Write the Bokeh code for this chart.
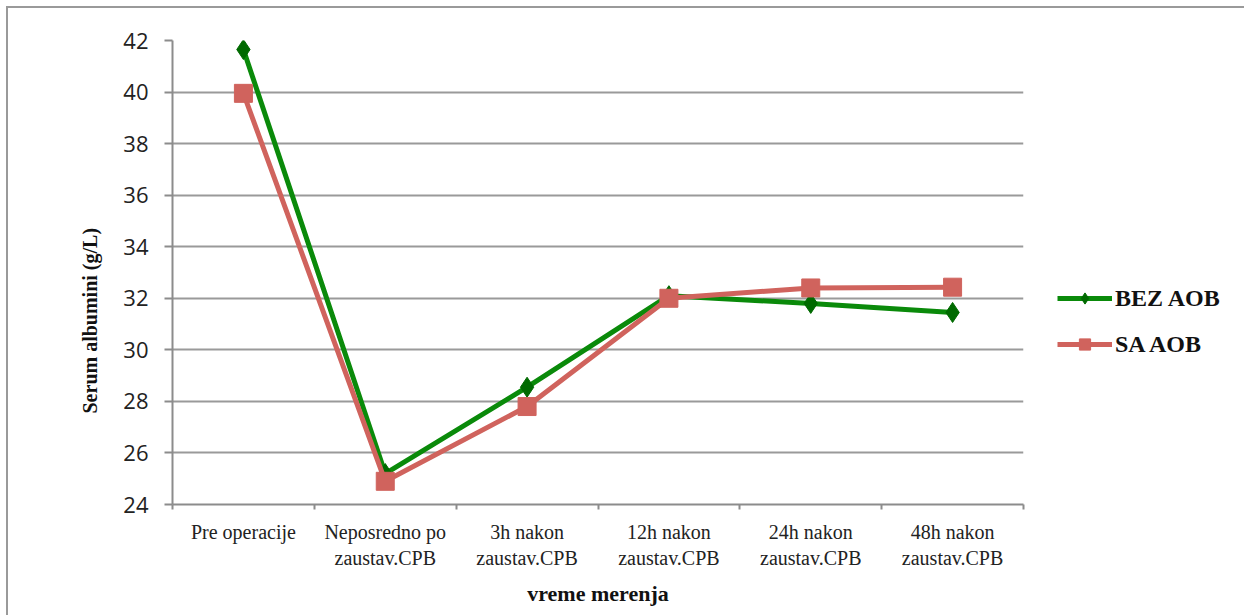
from bokeh.plotting import figure
from bokeh.models import FixedTicker, Legend, LegendItem, Range1d, Title
from bokeh.embed import file_html
from bokeh.resources import INLINE

categories = ["Pre operacije", "Neposredno po\nzaustav.CPB", "3h nakon\nzaustav.CPB",
              "12h nakon\nzaustav.CPB", "24h nakon\nzaustav.CPB", "48h nakon\nzaustav.CPB"]
bez_aob = [41.65, 25.2, 28.55, 32.1, 31.8, 31.45]
sa_aob = [39.95, 24.9, 27.8, 32.0, 32.4, 32.43]
y_ticks = [24, 26, 28, 30, 32, 34, 36, 38, 40, 42]

xs = [i + 0.5 for i in range(len(categories))]

p = figure(width=1228, frame_width=851, frame_height=464, output_backend="svg", toolbar_location=None,
           x_range=Range1d(0, len(categories)), y_range=Range1d(24, 42),
           min_border_left=164, min_border_top=32, min_border_right=10, min_border_bottom=114)
p.styles = {"border": "2px solid #9a9a9a", "margin-left": "6px", "margin-top": "6px"}
p.outline_line_color = None
p.background_fill_color = "white"
p.border_fill_color = "white"

# axes
p.xaxis.ticker = FixedTicker(ticks=xs, minor_ticks=list(range(len(categories) + 1)))
p.xaxis.major_label_overrides = {x: c for x, c in zip(xs, categories)}
p.xaxis.major_tick_line_color = None
p.xaxis.minor_tick_out = 5
p.xaxis.minor_tick_in = 0
p.xaxis.minor_tick_line_color = "#8c8c8c"
p.xaxis.minor_tick_line_width = 2
p.xaxis.axis_line_color = "#8c8c8c"
p.xaxis.axis_line_width = 2
p.xaxis.major_label_text_font = "Liberation Serif"
p.xaxis.major_label_text_font_size = "20px"
p.xaxis.major_label_text_color = "#222222"
p.xaxis.major_label_standoff = 10
p.xaxis.axis_label = "vreme merenja"
p.xaxis.axis_label_text_font = "Liberation Serif"
p.xaxis.axis_label_text_font_style = "bold"
p.xaxis.axis_label_text_font_size = "22px"
p.xaxis.axis_label_text_color = "#111111"
p.xaxis.axis_label_standoff = 9

p.yaxis.ticker = FixedTicker(ticks=y_ticks)
p.yaxis.major_tick_out = 8
p.yaxis.major_tick_in = 0
p.yaxis.minor_tick_line_color = None
p.yaxis.major_tick_line_color = "#8c8c8c"
p.yaxis.major_tick_line_width = 2
p.yaxis.axis_line_color = "#8c8c8c"
p.yaxis.axis_line_width = 2
p.yaxis.major_label_text_font = "Open Sans"
p.yaxis.major_label_text_font_size = "22px"
p.yaxis.major_label_text_color = "#222222"
p.yaxis.major_label_standoff = 16

ytitle = Title(text="Serum albumini (g/L)", align="left", offset=91,
               text_font="Liberation Serif", text_font_style="bold",
               text_font_size="20px", text_color="#111111", standoff=39)
p.add_layout(ytitle, "left")

p.xgrid.grid_line_color = None
p.ygrid.ticker = FixedTicker(ticks=y_ticks)
p.ygrid.grid_line_color = "#9a9a9a"
p.ygrid.grid_line_width = 2

green = "#0a8a0a"
green_dark = "#006a00"
red = "#d0635d"

l1 = p.line(xs, bez_aob, line_color=green, line_width=5)
m1 = p.scatter(xs, bez_aob, marker="diamond", size=20, fill_color=green_dark, line_color=green_dark)
l2 = p.line(xs, sa_aob, line_color=red, line_width=5)
m2 = p.scatter(xs, sa_aob, marker="square", size=18, fill_color=red, line_color=red)

legend = Legend(items=[LegendItem(label="BEZ AOB", renderers=[l1, m1]),
                       LegendItem(label="SA AOB", renderers=[l2, m2])],
                location=(34, 146), orientation="vertical")
legend.border_line_color = None
legend.background_fill_alpha = 0
legend.padding = 0
legend.margin = 0
legend.glyph_width = 55
legend.glyph_height = 28
legend.label_height = 28
legend.spacing = 18
legend.label_standoff = 3
legend.label_text_font = "Liberation Serif"
legend.label_text_font_style = "bold"
legend.label_text_font_size = "24px"
legend.label_text_color = "#111111"
p.add_layout(legend, "right")

open("out.html", "w").write(file_html(p, INLINE))
